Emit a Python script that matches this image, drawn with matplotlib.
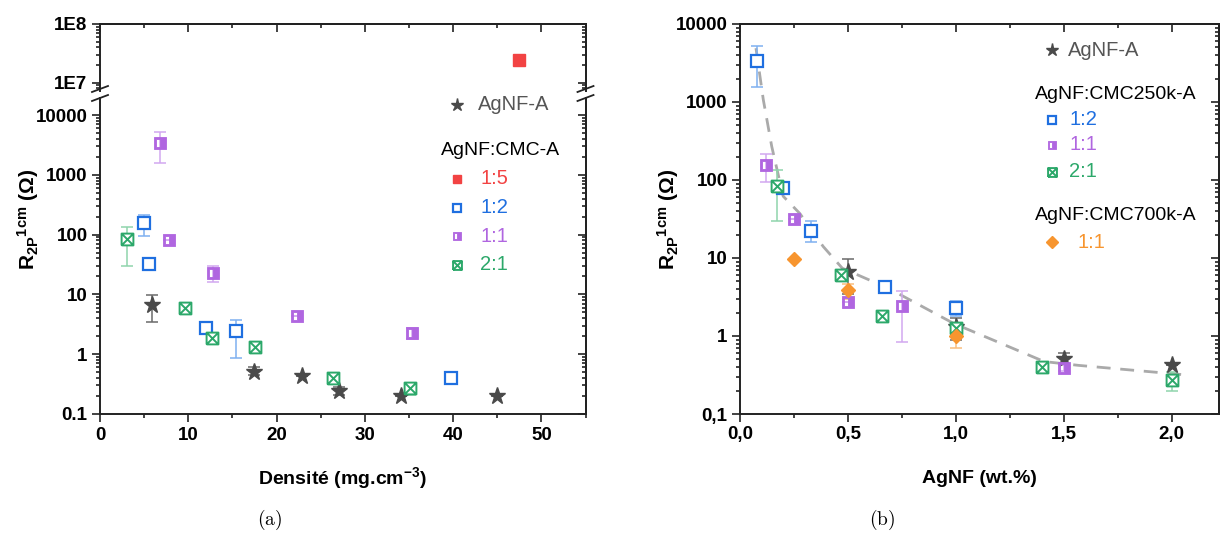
import numpy as np
import matplotlib
matplotlib.use("Agg")
import matplotlib.pyplot as plt
from matplotlib.path import Path
from matplotlib.lines import Line2D
from matplotlib.ticker import LogLocator, FixedLocator, NullFormatter, MultipleLocator

plt.rcParams['font.family'] = ['Liberation Sans', 'DejaVu Sans']
plt.rcParams['mathtext.fontset'] = 'custom'
plt.rcParams['mathtext.rm'] = 'Liberation Sans'
plt.rcParams['mathtext.bf'] = 'Liberation Sans:bold'
plt.rcParams['mathtext.default'] = 'bf'

# ---- panel (a): resistance vs density ----
dens_agnf = [5.9, 17.4, 22.9, 27.1, 34.1, 45.0]
r_agnf = [6.7, 0.5, 0.43, 0.24, 0.2, 0.2]
r_agnf_lo = [3.5, 0.45, 0.43, 0.21, 0.2, 0.2]
r_agnf_hi = [9.7, 0.6, 0.43, 0.28, 0.2, 0.2]

dens_15 = [47.5]
r_15 = [2.45e7]

dens_12 = [5.0, 5.5, 12.0, 15.4, 39.8]
r_12 = [155, 32, 2.75, 2.4, 0.4]
r_12_lo = [95, 32, 2.75, 0.85, 0.4]
r_12_hi = [215, 32, 2.75, 3.8, 0.4]

dens_11 = [6.8, 7.8, 12.8, 22.3, 35.4]
r_11 = [3400, 80, 23, 4.3, 2.3]
r_11_lo = [1550, 80, 16, 4.3, 1.8]
r_11_hi = [5300, 80, 30, 4.3, 2.7]

dens_21 = [3.1, 9.6, 12.7, 17.6, 26.4, 35.1]
r_21 = [83, 6.0, 1.85, 1.3, 0.4, 0.27]
r_21_lo = [30, 6.0, 1.85, 1.3, 0.4, 0.21]
r_21_hi = [135, 6.0, 1.85, 1.3, 0.4, 0.33]

# ---- panel (b): resistance vs AgNF wt% ----
wt_agnf = [0.5, 1.0, 1.5, 2.0]
rb_agnf = [6.7, 1.3, 0.5, 0.43]
rb_agnf_lo = [3.5, 0.9, 0.42, 0.43]
rb_agnf_hi = [9.7, 1.7, 0.6, 0.43]

wt_12 = [0.08, 0.2, 0.33, 0.67, 1.0]
rb_12 = [3400, 80, 22, 4.3, 2.3]
rb_12_lo = [1550, 80, 16, 4.3, 1.8]
rb_12_hi = [5300, 80, 30, 4.3, 2.8]

wt_11 = [0.12, 0.25, 0.5, 0.75, 1.5]
rb_11 = [155, 32, 2.75, 2.4, 0.39]
rb_11_lo = [95, 32, 2.75, 0.85, 0.36]
rb_11_hi = [215, 32, 2.75, 3.8, 0.42]

wt_21 = [0.17, 0.47, 0.66, 1.0, 1.4, 2.0]
rb_21 = [83, 6.0, 1.83, 1.25, 0.4, 0.27]
rb_21_lo = [30, 6.0, 1.83, 1.1, 0.4, 0.2]
rb_21_hi = [135, 6.0, 1.83, 1.4, 0.4, 0.35]

wt_700 = [0.25, 0.5, 1.0]
rb_700 = [9.6, 3.9, 1.0]
rb_700_lo = [9.6, 3.0, 0.7]
rb_700_hi = [9.6, 4.7, 1.3]

fit_wt = [0.074, 0.108, 0.147, 0.2, 0.278, 0.33, 0.386, 0.474, 0.687, 0.99, 1.41, 1.57, 2.05]
fit_r = [4900, 1070, 270, 62, 37, 23, 14, 7.4, 4.1, 1.45, 0.47, 0.42, 0.32]

GRAY, RED, BLUE, PURPLE, GREEN, ORANGE = '#4a4a4a', '#f24343', '#1f6fe0', '#b066e0', '#2ca86a', '#f7952f'
ERR = {GRAY: '#6a6a6a', BLUE: '#7fb0f0', PURPLE: '#d2a8f0', GREEN: '#8fd4ac', ORANGE: '#f9be80', RED: RED}
SPINE = '#222222'
YLABEL = r'${R_{2P}}^{1cm}$ (Ω)'

# square with an X inside
box_x = Path([(-1, -1), (1, -1), (1, 1), (-1, 1), (-1, -1), (-1, -1), (1, 1), (-1, 1), (1, -1)],
             [Path.MOVETO, Path.LINETO, Path.LINETO, Path.LINETO, Path.LINETO,
              Path.MOVETO, Path.LINETO, Path.MOVETO, Path.LINETO])
# filled square with a narrow white slot on the left
box_slot = Path([(-1, -1), (1, -1), (1, 1), (-1, 1), (-1, -1),
                 (-0.6, -0.65), (-0.6, 0.65), (-0.05, 0.65), (-0.05, -0.65), (-0.6, -0.65)],
                [Path.MOVETO, Path.LINETO, Path.LINETO, Path.LINETO, Path.CLOSEPOLY,
                 Path.MOVETO, Path.LINETO, Path.LINETO, Path.LINETO, Path.CLOSEPOLY])

STYLES = {
    'agnf': dict(marker='*', color=GRAY, ms=12.5, mfc=GRAY, mec=GRAY),
    '15': dict(marker='s', color=RED, ms=8.5, mfc=RED, mec=RED),
    '12': dict(marker='s', color=BLUE, ms=8.5, mfc='white', mec=BLUE, mew=1.6),
    '11': dict(marker=box_slot, color=PURPLE, ms=8.5, mfc=PURPLE, mec=PURPLE, mew=0.6),
    '21': dict(marker=box_x, color=GREEN, ms=8.5, mfc='white', mec=GREEN, mew=1.4),
    '700': dict(marker='D', color=ORANGE, ms=7.5, mfc=ORANGE, mec=ORANGE),
}


def draw(ax, x, y, lo, hi, key):
    st = STYLES[key]
    y = np.array(y)
    if lo is not None:
        yerr = [y - np.array(lo), np.array(hi) - y]
        ax.errorbar(x, y, yerr=yerr, fmt='none', ecolor=ERR[st['color']], elinewidth=1.1,
                    capsize=4, capthick=1.1, zorder=2)
    kw = dict(st)
    kw.pop('color')
    ax.plot(x, y, linestyle='none', zorder=3, **kw)


def legend_entry(ax, xm, xt, y, key, label, ms_scale=0.75, tcolor=None):
    st = dict(STYLES[key])
    c = st.pop('color')
    st['ms'] = st['ms'] * ms_scale
    ax.plot([xm], [y], linestyle='none', transform=ax.transAxes, clip_on=False, **st)
    ax.text(xt, y, label, transform=ax.transAxes, color=tcolor or c, fontsize=14.5,
            va='center', ha='left')


def ticks_common(ax):
    for s in ax.spines.values():
        s.set_linewidth(1.4)
        s.set_color(SPINE)
    ax.tick_params(which='both', width=1.2, labelsize=13.5, color=SPINE)
    ax.tick_params(which='major', length=5.5)
    ax.tick_params(which='minor', length=3)
    ax.tick_params(which='both', direction='out', right=False, top=False)


def log_y(ax, majors, labels=None):
    ax.yaxis.set_major_locator(FixedLocator(majors))
    ax.yaxis.set_minor_locator(LogLocator(base=10, subs=np.arange(2, 10), numticks=20))
    ax.yaxis.set_minor_formatter(NullFormatter())
    if labels is not None:
        ax.set_yticklabels(labels)


def right_ticks(ax, majors):
    sec = ax.secondary_yaxis('right')
    sec.yaxis.set_major_locator(FixedLocator(majors))
    sec.yaxis.set_minor_locator(LogLocator(base=10, subs=np.arange(2, 10), numticks=20))
    sec.tick_params(which='both', direction='in', labelright=False, width=1.2, color=SPINE)
    sec.tick_params(which='major', length=5.5)
    sec.tick_params(which='minor', length=3)
    sec.spines['right'].set_linewidth(1.4)
    sec.spines['right'].set_color(SPINE)


def top_ticks(ax, major, minor):
    sec = ax.secondary_xaxis('top')
    sec.xaxis.set_major_locator(MultipleLocator(major))
    sec.xaxis.set_minor_locator(MultipleLocator(minor))
    sec.tick_params(which='both', direction='in', labeltop=False, width=1.2, color=SPINE)
    sec.tick_params(which='major', length=5.5)
    sec.tick_params(which='minor', length=3)
    sec.spines['top'].set_linewidth(1.4)
    sec.spines['top'].set_color(SPINE)


def bold_labels(ax):
    for lab in ax.get_xticklabels() + ax.get_yticklabels():
        lab.set_fontweight('bold')


fig = plt.figure(figsize=(12.21, 5.34), dpi=100)

# ---- (a) broken y axis ----
L, W = 100 / 1221, 485.5 / 1221
ax_up = fig.add_axes([L, 1 - 91 / 534, W, (91 - 24) / 534])
ax_lo = fig.add_axes([L, 1 - 414 / 534, W, (414 - 98) / 534])

for ax in (ax_up, ax_lo):
    ax.set_yscale('log')
    ax.set_xlim(0, 55)
    ax.xaxis.set_major_locator(MultipleLocator(10))
    ax.xaxis.set_minor_locator(MultipleLocator(5))
    ticks_common(ax)

ax_up.set_ylim(10 ** 6.86, 1e8)
ax_lo.set_ylim(0.1, 10 ** 4.285)

draw(ax_up, dens_15, r_15, None, None, '15')
draw(ax_lo, dens_agnf, r_agnf, r_agnf_lo, r_agnf_hi, 'agnf')
draw(ax_lo, dens_12, r_12, r_12_lo, r_12_hi, '12')
draw(ax_lo, dens_11, r_11, r_11_lo, r_11_hi, '11')
draw(ax_lo, dens_21, r_21, r_21_lo, r_21_hi, '21')

ax_up.spines['bottom'].set_visible(False)
ax_lo.spines['top'].set_visible(False)
ax_up.tick_params(axis='x', which='both', bottom=False, labelbottom=False)

log_y(ax_up, [1e7, 1e8], ['1E7', '1E8'])
log_y(ax_lo, [0.1, 1, 10, 100, 1000, 10000], ['0.1', '1', '10', '100', '1000', '10000'])
right_ticks(ax_up, [1e7, 1e8])
right_ticks(ax_lo, [0.1, 1, 10, 100, 1000, 10000])
top_ticks(ax_up, 10, 5)
bold_labels(ax_up)
bold_labels(ax_lo)

ax_lo.set_xlabel('Densité (mg.cm$^{-3}$)', fontsize=14, fontweight='bold')
ax_lo.xaxis.set_label_coords(0.5, -0.162)
ax_lo.set_ylabel(YLABEL, fontsize=15, fontweight='bold')
# centred on the whole (broken) panel height
ax_lo.yaxis.set_label_coords(-0.122, (414 - 219) / 316)

# break marks
for xp in (100, 585.5):
    for yc in (89, 98):
        fig.add_artist(Line2D([(xp - 8) / 1221, (xp + 8) / 1221],
                              [1 - (yc + 3) / 534, 1 - (yc - 3) / 534],
                              transform=fig.transFigure, color=SPINE, lw=1.3))

legend_entry(ax_lo, 0.735, 0.779, 0.978, 'agnf', 'AgNF-A', tcolor='#555555')
ax_lo.text(0.702, 0.835, 'AgNF:CMC-A', transform=ax_lo.transAxes, fontsize=14, va='center')
legend_entry(ax_lo, 0.735, 0.783, 0.744, '15', '1:5')
legend_entry(ax_lo, 0.735, 0.783, 0.652, '12', '1:2')
legend_entry(ax_lo, 0.735, 0.783, 0.563, '11', '1:1')
legend_entry(ax_lo, 0.735, 0.783, 0.472, '21', '2:1')

# ---- (b) ----
axb = fig.add_axes([740 / 1221, 1 - 414 / 534, 479 / 1221, 390 / 534])
axb.set_yscale('log')
axb.set_xlim(0, 2.22)
axb.set_ylim(0.1, 10000)
ticks_common(axb)
axb.plot(fit_wt, fit_r, color='#aaaaaa', lw=2, dashes=(5, 3.5), zorder=1)
draw(axb, wt_agnf, rb_agnf, rb_agnf_lo, rb_agnf_hi, 'agnf')
draw(axb, wt_12, rb_12, rb_12_lo, rb_12_hi, '12')
draw(axb, wt_11, rb_11, rb_11_lo, rb_11_hi, '11')
draw(axb, wt_21, rb_21, rb_21_lo, rb_21_hi, '21')
draw(axb, wt_700, rb_700, rb_700_lo, rb_700_hi, '700')

axb.xaxis.set_major_locator(FixedLocator([0, 0.5, 1.0, 1.5, 2.0]))
axb.xaxis.set_minor_locator(MultipleLocator(0.25))
axb.set_xticklabels(['0,0', '0,5', '1,0', '1,5', '2,0'])
log_y(axb, [0.1, 1, 10, 100, 1000, 10000], ['0,1', '1', '10', '100', '1000', '10000'])
right_ticks(axb, [0.1, 1, 10, 100, 1000, 10000])
top_ticks(axb, 0.5, 0.25)
bold_labels(axb)

axb.set_xlabel('AgNF (wt.%)', fontsize=14, fontweight='bold')
axb.xaxis.set_label_coords(0.5, -0.143)
axb.set_ylabel(YLABEL, fontsize=15, fontweight='bold')
axb.yaxis.set_label_coords(-0.123, 0.5)

legend_entry(axb, 0.651, 0.685, 0.933, 'agnf', 'AgNF-A', tcolor='#555555')
axb.text(0.616, 0.818, 'AgNF:CMC250k-A', transform=axb.transAxes, fontsize=14, va='center')
legend_entry(axb, 0.651, 0.687, 0.754, '12', '1:2')
legend_entry(axb, 0.651, 0.687, 0.690, '11', '1:1')
legend_entry(axb, 0.651, 0.687, 0.621, '21', '2:1')
axb.text(0.616, 0.510, 'AgNF:CMC700k-A', transform=axb.transAxes, fontsize=14, va='center')
legend_entry(axb, 0.651, 0.704, 0.441, '700', '1:1')

fig.text(270 / 1221, 1 - 520 / 534, r'$\mathrm{(a)}$', math_fontfamily='cm', fontsize=14,
         ha='center', va='center')
fig.text(882 / 1221, 1 - 520 / 534, r'$\mathrm{(b)}$', math_fontfamily='cm', fontsize=14,
         ha='center', va='center')

fig.savefig('out.png', dpi=100)
